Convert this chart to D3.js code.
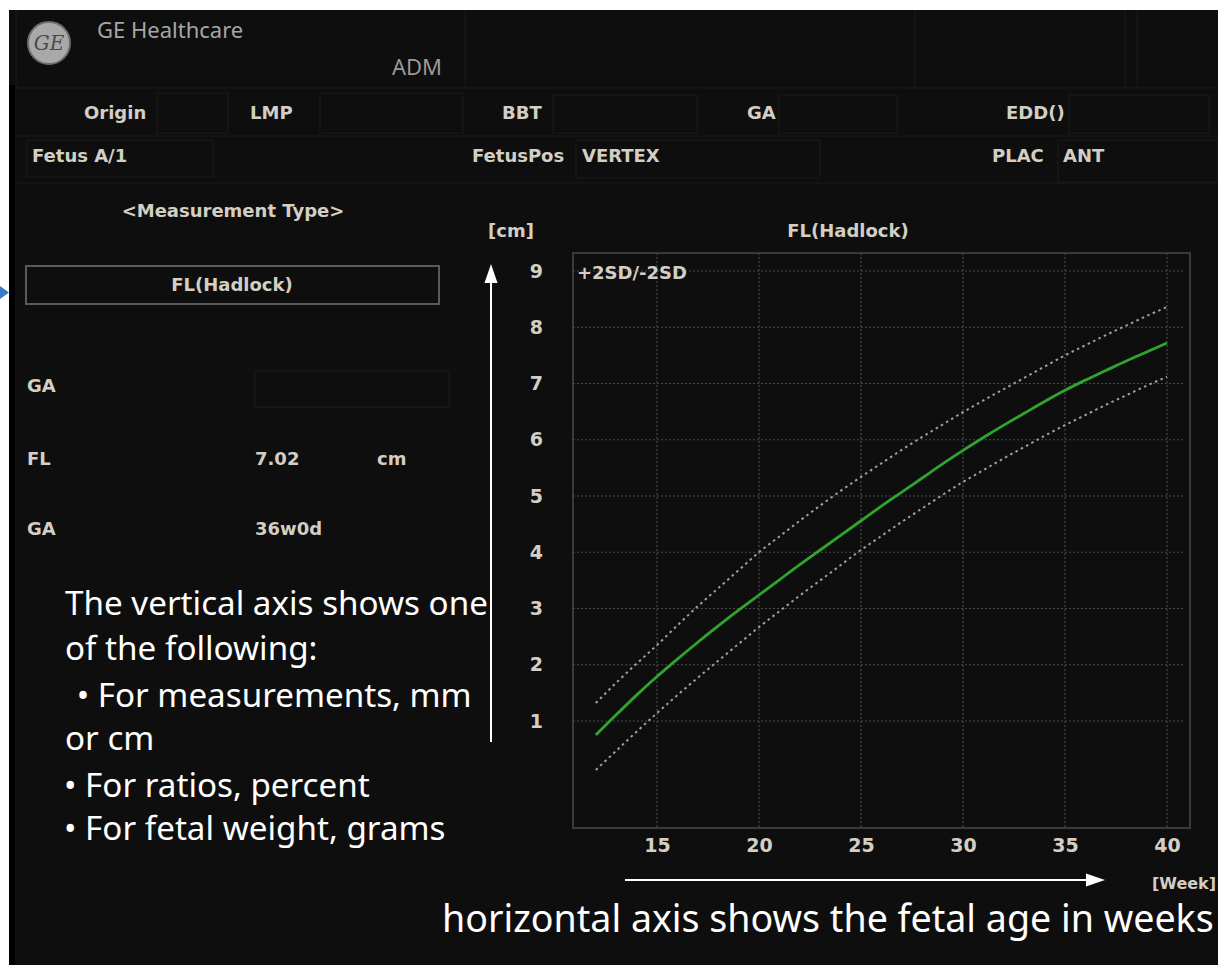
<!DOCTYPE html>
<html>
<head>
<meta charset="utf-8">
<script src="https://cdn.jsdelivr.net/npm/d3@7"></script>
<style>
    body { margin: 0; background: #fff; }
    svg { display: block; }
    .ui { font-family: "DejaVu Sans", sans-serif; font-weight: bold; fill: #d3cfc5; font-size: 18px; }
    .note { font-family: "Noto Sans", sans-serif; fill: #fff; }
</style>
</head>
<body>
<div id="chart"></div>
<script>
// FL (Hadlock) growth chart, values
var weeks   = [12,13,14,15,16,17,18,19,20,21,22,23,24,25,26,27,28,29,30,31,32,33,34,35,36,37,38,39,40];
var flMean  = [0.75,1.11,1.46,1.79,2.10,2.40,2.69,2.97,3.24,3.51,3.78,4.04,4.30,4.56,4.82,5.07,5.32,5.57,5.81,6.04,6.26,6.47,6.68,6.88,7.06,7.23,7.40,7.56,7.72];
var flUpper = [1.32,1.68,2.02,2.35,2.70,3.04,3.36,3.68,4.00,4.28,4.56,4.83,5.09,5.34,5.58,5.82,6.05,6.27,6.49,6.70,6.90,7.10,7.30,7.50,7.68,7.86,8.03,8.20,8.36];
var flLower = [0.13,0.47,0.81,1.14,1.46,1.77,2.07,2.37,2.67,2.95,3.23,3.50,3.77,4.04,4.29,4.54,4.78,5.02,5.25,5.46,5.67,5.87,6.07,6.26,6.44,6.62,6.79,6.96,7.12];

var yTicks = [1,2,3,4,5,6,7,8,9];
var xTicks = [15,20,25,30,35,40];

var headerLabels = ["Origin", "LMP", "BBT", "GA", "EDD()"];
var rowLabels    = ["Fetus A/1", "FetusPos", "VERTEX", "PLAC", "ANT"];
var resultLabels = ["GA", "FL", "GA"];
var resultValues = ["", "7.02", "36w0d"];
var resultUnits  = ["", "cm", ""];

var noteLines = ["The vertical axis shows one", "of the following:", " \u2022 For measurements, mm",
                 "or cm", "\u2022 For ratios, percent", "\u2022 For fetal weight, grams"];
var noteBottom = "horizontal axis shows the fetal age in weeks";

var W = 1218, H = 965;
var svg = d3.select("#chart").append("svg").attr("width", W).attr("height", H);

// screen background + white margins of the capture
svg.append("rect").attr("width", W).attr("height", H).attr("fill", "#fff");
svg.append("rect").attr("x", 9).attr("y", 10).attr("width", W - 9).attr("height", H - 10).attr("fill", "#0e0e0e");
svg.append("rect").attr("x", 9).attr("y", 85).attr("width", 6).attr("height", H - 85).attr("fill", "#000");
svg.append("path").attr("d", "M0,286 L9,292.5 L0,299 Z").attr("fill", "#3b78c9");

// ---- header area ----
var lines = svg.append("g").attr("stroke", "#1a1a1a").attr("fill", "none").attr("stroke-width", 1.2);
[16, 465, 915, 1125, 1137].forEach(function(x) {
    lines.append("line").attr("x1", x).attr("x2", x).attr("y1", 10).attr("y2", 88);
});
lines.append("line").attr("x1", 15).attr("x2", W).attr("y1", 88).attr("y2", 88);
lines.append("line").attr("x1", 15).attr("x2", W).attr("y1", 136).attr("y2", 136);
lines.append("line").attr("x1", 15).attr("x2", W).attr("y1", 183).attr("y2", 183);
[[157, 93, 71, 40], [320, 93, 143, 40], [553, 95, 144, 38], [779, 95, 118, 38], [1069, 95, 140, 38],
 [27, 140, 186, 37], [576, 140, 244, 38], [1058, 140, 160, 42]].forEach(function(b) {
    lines.append("rect").attr("x", b[0]).attr("y", b[1]).attr("width", b[2]).attr("height", b[3]);
});

// GE logo
var logo = svg.append("g").attr("transform", "translate(49,43)");
logo.append("circle").attr("r", 21).attr("fill", "#a9a9a9").attr("stroke", "#6d6d6d").attr("stroke-width", 2);
logo.append("text").attr("text-anchor", "middle").attr("dy", "0.36em")
    .style("font-family", "DejaVu Serif, serif").style("font-style", "italic").style("font-size", "20px")
    .attr("fill", "#4a4a4a").text("GE");

svg.append("text").attr("x", 97).attr("y", 38)
    .style("font-family", "Noto Sans, sans-serif").style("font-size", "22px").attr("fill", "#a6a6a6")
    .text("GE Healthcare");
svg.append("text").attr("x", 392).attr("y", 75)
    .style("font-family", "Noto Sans, sans-serif").style("font-size", "22px").attr("fill", "#9a9a9a")
    .text("ADM");

var headX = [84, 250, 502, 747, 1006];
svg.selectAll(".head").data(headerLabels).enter().append("text")
    .attr("class", "ui head").attr("x", function(d, i) { return headX[i]; }).attr("y", 119)
    .text(function(d) { return d; });

var rowX = [32, 472, 582, 992, 1063];
svg.selectAll(".row").data(rowLabels).enter().append("text")
    .attr("class", "ui row").attr("x", function(d, i) { return rowX[i]; }).attr("y", 162)
    .text(function(d) { return d; });

// ---- left measurement panel ----
svg.append("text").attr("class", "ui").attr("x", 233).attr("y", 217).attr("text-anchor", "middle")
    .text("<Measurement Type>");
svg.append("rect").attr("x", 26).attr("y", 266).attr("width", 413).attr("height", 38)
    .attr("fill", "none").attr("stroke", "#5a5a5a").attr("stroke-width", 2);
svg.append("text").attr("class", "ui").attr("x", 232).attr("y", 291).attr("text-anchor", "middle")
    .text("FL(Hadlock)");
svg.append("rect").attr("x", 255).attr("y", 371).attr("width", 194).attr("height", 36)
    .attr("fill", "none").attr("stroke", "#1b1b1b").attr("stroke-width", 1.2);

var rowY = [392, 465, 535];
var res = svg.selectAll(".res").data(resultLabels).enter().append("g").attr("class", "res");
res.append("text").attr("class", "ui").attr("x", 27).attr("y", function(d, i) { return rowY[i]; })
    .text(function(d) { return d; });
res.append("text").attr("class", "ui").attr("x", 255).attr("y", function(d, i) { return rowY[i]; })
    .text(function(d, i) { return resultValues[i]; });
res.append("text").attr("class", "ui").attr("x", 377).attr("y", function(d, i) { return rowY[i]; })
    .text(function(d, i) { return resultUnits[i]; });

// ---- growth chart ----
var frame = {left: 573, top: 253, right: 1190, bottom: 828};

var x = d3.scaleLinear().domain([15, 40]).range([657, 1167]);
var y = d3.scaleLinear().domain([1, 9]).range([721, 271]);

svg.append("rect").attr("x", frame.left).attr("y", frame.top)
    .attr("width", frame.right - frame.left).attr("height", frame.bottom - frame.top)
    .attr("fill", "none").attr("stroke", "#3a3a3a").attr("stroke-width", 2);

var grid = svg.append("g").attr("stroke", "#4a4a4a").attr("stroke-width", 1.2).attr("stroke-dasharray", "2,2");
grid.selectAll(".gy").data(yTicks).enter().append("line")
    .attr("x1", frame.left).attr("x2", frame.right - 5)
    .attr("y1", function(d) { return y(d); }).attr("y2", function(d) { return y(d); });
grid.selectAll(".gx").data(xTicks).enter().append("line")
    .attr("y1", frame.top).attr("y2", frame.bottom)
    .attr("x1", function(d) { return x(d); }).attr("x2", function(d) { return x(d); });

var yAxis = d3.axisLeft(y).tickValues(yTicks).tickSize(0).tickPadding(0);
svg.append("g").attr("transform", "translate(543,0)").call(yAxis)
    .call(function(g) { g.select(".domain").remove(); })
    .selectAll("text").attr("class", "ui").attr("fill", null).style("font-size", "19px");

var xAxis = d3.axisBottom(x).tickValues(xTicks).tickSize(0).tickPadding(8);
svg.append("g").attr("transform", "translate(0,831)").call(xAxis)
    .call(function(g) { g.select(".domain").remove(); })
    .selectAll("text").attr("class", "ui").attr("fill", null).style("font-size", "19px");

var line = function(vals) {
    return d3.line().x(function(d, i) { return x(weeks[i]); }).y(function(d) { return y(d); })
        .curve(d3.curveMonotoneX)(vals);
};
svg.append("path").attr("d", line(flUpper)).attr("fill", "none")
    .attr("stroke", "#a0a0a0").attr("stroke-width", 2).attr("stroke-dasharray", "2.5,3.5");
svg.append("path").attr("d", line(flLower)).attr("fill", "none")
    .attr("stroke", "#a0a0a0").attr("stroke-width", 2).attr("stroke-dasharray", "2.5,3.5");
svg.append("path").attr("d", line(flMean)).attr("fill", "none")
    .attr("stroke", "#2ea52e").attr("stroke-width", 2.8);

svg.append("text").attr("class", "ui").attr("x", 488).attr("y", 237).text("[cm]");
svg.append("text").attr("class", "ui").attr("x", 848).attr("y", 237).attr("text-anchor", "middle")
    .text("FL(Hadlock)");
svg.append("text").attr("class", "ui").attr("x", 577).attr("y", 279).text("+2SD/-2SD");
svg.append("text").attr("class", "ui").attr("x", 1152).attr("y", 889).style("font-size", "16px").text("[Week]");

// ---- white explanatory arrows and notes ----
svg.append("line").attr("x1", 491).attr("x2", 491).attr("y1", 742).attr("y2", 280)
    .attr("stroke", "#fff").attr("stroke-width", 2);
svg.append("path").attr("d", "M491,264 L484.5,283 L497.5,283 Z").attr("fill", "#fff");
svg.append("line").attr("x1", 625).attr("x2", 1090).attr("y1", 880).attr("y2", 880)
    .attr("stroke", "#fff").attr("stroke-width", 2);
svg.append("path").attr("d", "M1105,880 L1086,873.5 L1086,886.5 Z").attr("fill", "#fff");

// fit the note fonts to the widths measured on the capture
function fitSize(str, width) {
    var probe = svg.append("text").attr("class", "note").style("font-size", "100px").text(str);
    var s = 100 * width / probe.node().getComputedTextLength();
    probe.remove();
    return s;
}
var fs = fitSize(noteLines[0], 423);
var fsBottom = fitSize(noteBottom, 772);

var noteX = [65, 65, 68, 65, 64, 64];
var noteY = [615, 660, 707, 750, 797, 840];
svg.selectAll(".nl").data(noteLines).enter().append("text")
    .attr("class", "note").attr("x", function(d, i) { return noteX[i]; })
    .attr("y", function(d, i) { return noteY[i]; })
    .style("font-size", fs + "px").style("white-space", "pre").text(function(d) { return d; });
svg.append("text").attr("class", "note").attr("x", 442).attr("y", 932)
    .style("font-size", fsBottom + "px").text(noteBottom);
</script>
</body>
</html>
